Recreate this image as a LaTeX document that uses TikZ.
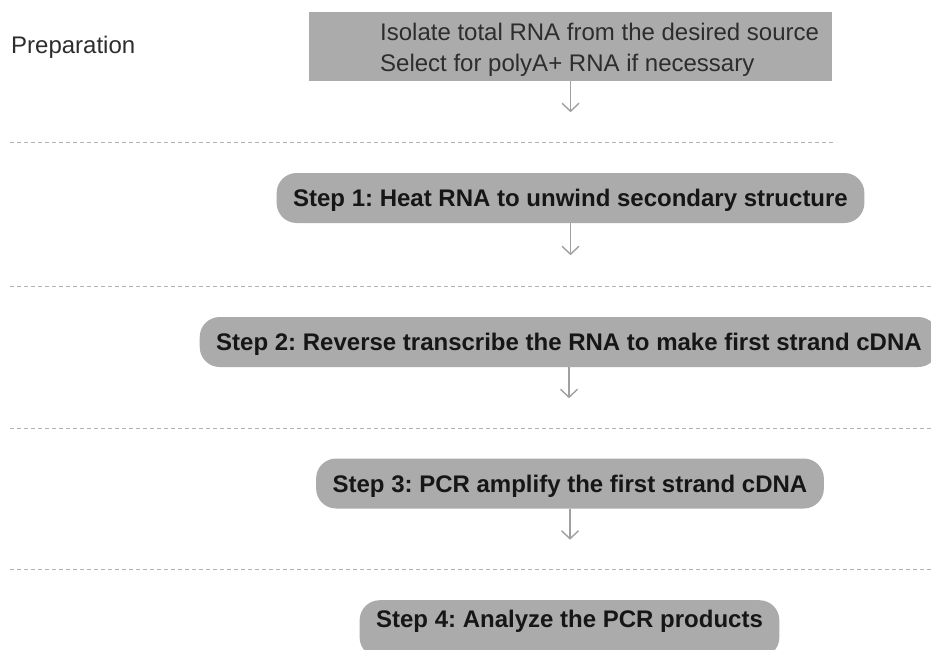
\documentclass[tikz,border=0pt]{standalone}
\usepackage{fontspec}
\setmainfont{Liberation Sans}
\usetikzlibrary{arrows.meta,calc}
\frenchspacing
\definecolor{boxgray}{RGB}{171,171,171}
\definecolor{inkdark}{RGB}{22,22,22}
\definecolor{inksoft}{RGB}{45,45,45}
\definecolor{arrowgray}{RGB}{160,160,160}
\definecolor{rulegray}{RGB}{178,178,178}
\tikzset{
  stepbox/.style={fill=boxgray, rounded corners=20pt,
    font=\fontsize{24}{29}\selectfont\bfseries, text=inkdark,
    text height=17.2pt, text depth=0pt, inner xsep=16.5pt, inner ysep=16.4pt},
  flowarrow/.style={draw=arrowgray, line width=1.4pt,
    -{Straight Barb[length=8pt,width=17pt]}},
  divider/.style={draw=rulegray, line width=1pt, dash pattern=on 4pt off 3pt},
  plaintext/.style={font=\fontsize{24}{31}\selectfont, text=inksoft, inner sep=0pt}
}
\begin{document}
\begin{tikzpicture}[x=1pt,y=-1pt]
\useasboundingbox (0,0) rectangle (931,649);

% preparation stage
\node[plaintext, anchor=base west] (preplabel) at (11,53) {Preparation};
\node[fill=boxgray, minimum width=523pt, minimum height=69pt, inner sep=0pt] (prep) at (570.5,46.5) {};
\node[plaintext, anchor=base west] (prepA) at (380,40) {Isolate total RNA from the desired source};
\node[plaintext, anchor=base west] (prepB) at (380,71) {Select for polyA+ RNA if necessary};
\coordinate (e0) at ($(prep.south)+(0,31)$);
\draw[flowarrow] (prep.south) -- (e0);

\draw[divider] (10,142) -- (836,142);

% step 1
\node[stepbox] (s1) at (570.5,198) {Step 1: Heat RNA to unwind secondary structure};
\coordinate (e1) at ($(s1.south)+(0,32)$);
\draw[flowarrow] (s1.south) -- (e1);

\draw[divider] (10,286) -- (931,286);

% step 2
\node[stepbox] (s2) at (569,342) {Step 2: Reverse transcribe the RNA to make first strand cDNA};
\coordinate (e2) at ($(s2.south)+(0,31)$);
\draw[flowarrow] (s2.south) -- (e2);

\draw[divider] (10,428) -- (931,428);

% step 3
\node[stepbox] (s3) at (570,483.5) {Step 3: PCR amplify the first strand cDNA};
\coordinate (e3) at ($(s3.south)+(0,31)$);
\draw[flowarrow] (s3.south) -- (e3);

\draw[divider] (10,569) -- (931,569);

% step 4
\node[stepbox, anchor=north, text depth=20pt, inner ysep=10pt] (s4) at (569.5,600) {Step 4: Analyze the PCR products};
\end{tikzpicture}
\end{document}
